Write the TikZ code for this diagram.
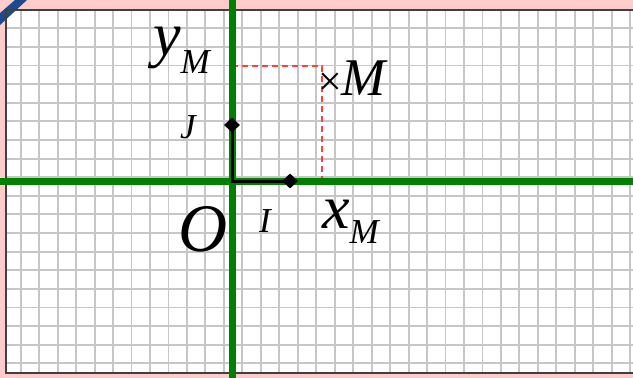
\documentclass[tikz,border=0pt]{standalone}
\usepackage{fontspec}
\setmainfont{Liberation Serif}
\usetikzlibrary{shapes.geometric}
\definecolor{framepink}{RGB}{255,204,204}
\definecolor{axisgreen}{RGB}{0,128,0}
\definecolor{gridgray}{RGB}{198,198,198}
\definecolor{cornerblue}{RGB}{30,74,140}
\definecolor{dashred}{RGB}{255,64,64}

\begin{document}
\begin{tikzpicture}[
  x=1pt, y=-1pt,
  point/.style={diamond, fill=black, inner sep=0pt,
    minimum width=16pt, minimum height=15pt},
  lbl/.style={inner sep=0pt, anchor=base west}
]
  \useasboundingbox (0,0) rectangle (633,378);

  % Sheet and corner
  \fill[framepink] (0,0) rectangle (633,378);
  \fill[white] (6,10) rectangle (633,373);
  \fill[cornerblue] (0,13) -- (15,0) -- (27,0) -- (0,25) -- cycle;

  % Grid
  \foreach \i in {0,...,33}
    \draw[gridgray, line width=1.9pt] ({20.7+18.47*\i},10) -- ({20.7+18.47*\i},373);
  \foreach \j in {1,...,19}
    \draw[gridgray, line width=1.9pt] (6,{9.7+18.61*\j}) -- (633,{9.7+18.61*\j});
  \draw[black!75, line width=2.5pt] (633,10) -- (6,10) -- (6,373) -- (633,373);

  % Projections of M
  \coordinate (M) at (322,66);
  \coordinate (yM) at (232,66);
  \coordinate (xM) at (322,181);
  \draw[dashred, line width=2pt, dash pattern=on 6pt off 4pt] (yM) -- (M) -- (xM);

  % Axes
  \draw[axisgreen, line width=7pt] (0,181) -- (633,181);
  \draw[axisgreen, line width=7pt] (232,0) -- (232,378);

  % Frame (O, I, J)
  \coordinate (O) at (232,181);
  \node[point] (I) at (290,181) {};
  \node[point] (J) at (232,125) {};
  \draw[line width=3pt] (J.center) -- (O) -- (I.center);

  % Labels
  \node[lbl, font=\fontsize{68}{68}\selectfont\itshape] (Olbl) at (178,251) {O};
  \node[lbl, font=\fontsize{35}{35}\selectfont\itshape] (Ilbl) at (259,232) {I};
  \node[lbl, font=\fontsize{35}{35}\selectfont\itshape] (Jlbl) at (180,138) {J};
  \node[lbl, font=\fontsize{62}{62}\selectfont\itshape] (ylbl) at (153,55)
    {y\raisebox{-18pt}{\fontsize{35}{35}\selectfont M}};
  \node[lbl, font=\fontsize{62}{62}\selectfont\itshape] (xlbl) at (322,228)
    {x\raisebox{-15pt}{\fontsize{35}{35}\selectfont M}};
  \node[lbl, font=\fontsize{53}{53}\selectfont\itshape] (Mlbl) at (318,95)
    {{\fontsize{42}{42}\selectfont\upshape ×}M};
\end{tikzpicture}
\end{document}
